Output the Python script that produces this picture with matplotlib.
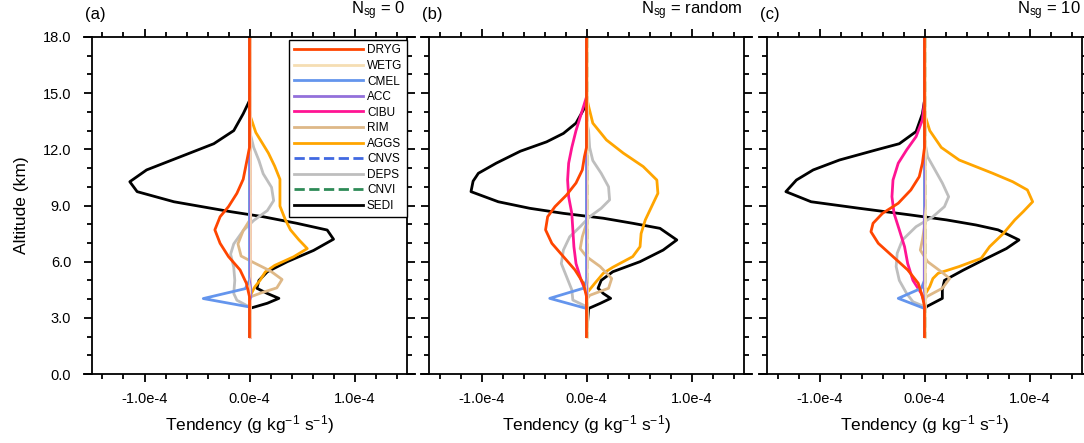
import matplotlib
matplotlib.use("Agg")
import matplotlib.pyplot as plt
from matplotlib.ticker import MultipleLocator, FuncFormatter
from matplotlib.lines import Line2D

plt.rcParams['font.family'] = ['Liberation Sans', 'DejaVu Sans']
plt.rcParams['mathtext.fontset'] = 'custom'
plt.rcParams['mathtext.rm'] = 'Liberation Sans'
plt.rcParams['mathtext.it'] = 'Liberation Sans:italic'

# profiles: (altitude km, tendency in 1e-4 g/kg/s)
zero = [(18, 0), (2, 0)]

# ---- (a) Nsg = 0
sedi_a = [(18, 0), (14.6, 0), (13.9, -0.06), (13.0, -0.15), (12.3, -0.34), (11.6, -0.66),
          (10.9, -0.98), (10.27, -1.14), (9.74, -1.07), (9.2, -0.72), (8.67, -0.18), (8.4, 0.13),
          (8.05, 0.45), (7.69, 0.74), (7.2, 0.80), (6.6, 0.61), (6.0, 0.36), (5.46, 0.17),
          (5.0, 0.09), (4.58, 0.07), (4.3, 0.17), (4.04, 0.28), (3.78, 0.17), (3.5, 0.0), (2, 0)]
dryg_a = [(18, 0), (12.1, 0), (11.25, -0.03), (10.4, -0.06), (9.65, -0.12), (8.94, -0.2),
          (8.4, -0.28), (7.7, -0.33), (6.98, -0.28), (6.27, -0.2), (5.56, -0.09), (4.85, -0.03),
          (4.13, 0), (2, 0)]
deps_a = [(18, 0), (13.0, 0), (12.1, 0.04), (11.4, 0.09), (10.7, 0.13), (9.97, 0.21), (9.26, 0.23),
          (8.73, 0.17), (8.2, 0.04), (7.66, -0.06), (6.95, -0.15), (6.4, -0.18), (5.7, -0.15),
          (5.0, -0.14), (4.3, -0.15), (3.94, -0.12), (3.58, 0), (2, 0)]
aggs_a = [(18, 0), (13.9, 0), (12.9, 0.06), (11.8, 0.18), (11.1, 0.24), (10.4, 0.29), (9.68, 0.29),
          (8.97, 0.29), (8.26, 0.34), (7.7, 0.39), (7.17, 0.47), (6.7, 0.55), (6.26, 0.42),
          (5.8, 0.24), (5.45, 0.15), (5.0, 0.10), (4.65, 0.05), (4.1, 0), (2, 0)]
rim_a = [(18, 0), (8.2, 0), (7.66, -0.06), (6.95, -0.11), (6.3, -0.08), (5.95, 0.04), (5.5, 0.20),
         (5.05, 0.31), (4.6, 0.26), (4.35, 0.12), (4.1, 0), (2, 0)]
cmel_a = [(18, 0), (5.0, 0), (4.56, -0.04), (4.03, -0.44), (3.58, 0), (2, 0)]
acc_a = [(18, 0), (5.2, 0), (4.6, 0.02), (4.1, 0.02), (3.8, 0), (2, 0)]
cibu_a = zero

# ---- (b) Nsg = random
sedi_b = [(18, 0), (14.6, 0), (14.1, -0.03), (13.4, -0.10), (12.85, -0.22), (12.4, -0.38),
          (11.9, -0.63), (11.26, -0.86), (10.72, -1.03), (10.3, -1.08), (9.74, -1.10), (9.2, -0.84),
          (8.85, -0.54), (8.58, -0.22), (8.32, 0.16), (8.05, 0.44), (7.78, 0.70), (7.16, 0.86),
          (6.62, 0.73), (6.0, 0.51), (5.46, 0.25), (5.0, 0.14), (4.58, 0.11), (4.3, 0.16),
          (4.04, 0.23), (3.77, 0.13), (3.5, 0.02), (2, 0)]
dryg_b = [(18, 0), (12.1, 0), (11.6, -0.02), (10.9, -0.04), (10.2, -0.10), (9.56, -0.19),
          (8.94, -0.30), (8.4, -0.37), (7.7, -0.39), (6.98, -0.33), (6.27, -0.22), (5.56, -0.11),
          (4.85, -0.03), (4.14, 0), (2, 0)]
cibu_b = [(18, 0), (14.8, 0), (13.9, -0.05), (13.0, -0.10), (12.1, -0.14), (11.26, -0.17),
          (10.36, -0.18), (9.47, -0.17), (8.58, -0.14), (7.7, -0.13), (6.8, -0.12), (5.9, -0.10),
          (5.0, -0.05), (4.3, 0), (2, 0)]
deps_b = [(18, 0), (13.5, 0), (13.0, 0.02), (12.1, 0.03), (11.4, 0.06), (10.72, 0.14), (10.0, 0.21),
          (9.3, 0.22), (8.85, 0.14), (8.4, 0.03), (7.87, -0.06), (7.33, -0.16), (6.62, -0.22),
          (5.9, -0.24), (5.2, -0.19), (4.5, -0.14), (3.95, -0.13), (3.6, 0), (2, 0)]
aggs_b = [(18, 0), (14.8, 0), (14.3, 0.02), (13.4, 0.06), (12.5, 0.19), (11.8, 0.35), (11.08, 0.54),
          (10.36, 0.67), (9.65, 0.68), (8.94, 0.62), (8.23, 0.56), (7.5, 0.52), (6.8, 0.51),
          (6.27, 0.44), (5.7, 0.25), (5.38, 0.16), (4.85, 0.08), (4.3, 0), (2, 0)]
rim_b = [(18, 0), (8.05, 0), (7.33, -0.04), (6.7, -0.06), (6.27, 0), (5.74, 0.13), (5.1, 0.24),
         (4.58, 0.21), (4.2, 0.03), (3.95, 0), (2, 0)]
cmel_b = [(18, 0), (5.0, 0), (4.58, -0.03), (4.04, -0.35), (3.5, 0), (2, 0)]
acc_b = [(18, 0), (5.2, 0), (4.6, 0.01), (4.1, 0.01), (3.8, 0), (2, 0)]

# ---- (c) Nsg = 10
sedi_c = [(18, 0), (14.6, 0), (13.9, -0.02), (12.95, -0.08), (12.3, -0.24), (11.97, -0.46),
          (11.43, -0.81), (10.9, -1.06), (10.36, -1.22), (9.74, -1.32), (9.2, -1.08), (8.85, -0.62),
          (8.5, -0.14), (8.23, 0.21), (7.96, 0.49), (7.7, 0.70), (7.16, 0.90), (6.7, 0.78),
          (6.09, 0.56), (5.55, 0.37), (5.0, 0.19), (4.5, 0.17), (4.04, 0.17), (3.6, 0.02),
          (3.42, 0), (2, 0)]
dryg_c = [(18, 0), (12.1, 0), (11.26, -0.02), (10.54, -0.05), (9.83, -0.13), (9.12, -0.25),
          (8.58, -0.40), (8.05, -0.49), (7.6, -0.51), (6.98, -0.44), (6.27, -0.30), (5.56, -0.16),
          (4.85, -0.06), (4.14, -0.02), (3.6, 0), (2, 0)]
cibu_c = [(18, 0), (14.6, 0), (13.57, -0.02), (12.68, -0.08), (11.97, -0.17), (11.26, -0.25),
          (10.36, -0.30), (9.47, -0.31), (8.58, -0.29), (7.7, -0.24), (6.8, -0.19), (5.9, -0.16),
          (5.0, -0.11), (4.3, -0.03), (3.8, 0), (2, 0)]
deps_c = [(18, 0), (12.5, 0), (11.6, 0.03), (10.9, 0.10), (10.2, 0.17), (9.47, 0.23), (8.94, 0.19),
          (8.4, 0.08), (7.87, -0.08), (7.16, -0.21), (6.45, -0.26), (5.74, -0.27), (5.0, -0.24),
          (4.3, -0.17), (3.86, -0.11), (3.6, 0), (2, 0)]
aggs_c = [(18, 0), (13.9, 0), (13.0, 0.05), (12.1, 0.16), (11.43, 0.33), (10.72, 0.65),
          (10.27, 0.84), (9.83, 0.98), (9.2, 1.03), (8.67, 0.94), (8.23, 0.86), (7.5, 0.75),
          (6.8, 0.62), (6.18, 0.54), (5.74, 0.33), (5.38, 0.13), (5.1, 0.08), (4.67, 0.05),
          (4.2, 0), (2, 0)]
rim_c = [(18, 0), (7.87, 0), (7.16, -0.02), (6.62, -0.04), (6.0, 0.03), (5.46, 0.16), (5.1, 0.24),
         (4.58, 0.17), (4.13, 0.02), (3.9, 0), (2, 0)]
cmel_c = [(18, 0), (5.0, 0), (4.58, -0.03), (4.04, -0.25), (3.5, 0), (2, 0)]
acc_c = [(18, 0), (9.0, 0), (8.5, -0.01), (4.5, -0.01), (4.0, 0), (2, 0)]

panel_tags = ['(a)', '(b)', '(c)']
panel_titles = ['N$_{\\mathrm{sg}}$ = 0', 'N$_{\\mathrm{sg}}$ = random', 'N$_{\\mathrm{sg}}$ = 10']

names = ['DRYG', 'WETG', 'CMEL', 'ACC', 'CIBU', 'RIM', 'AGGS', 'CNVS', 'DEPS', 'CNVI', 'SEDI']
colors = {'DRYG': '#FF4500', 'WETG': '#F5DEB3', 'CMEL': '#6495ED', 'ACC': '#9370DB',
          'CIBU': '#FF1493', 'RIM': '#DEB887', 'AGGS': '#FFA500', 'CNVS': '#4169E1',
          'DEPS': '#BEBEBE', 'CNVI': '#2E8B57', 'SEDI': 'black'}
styles = {'CNVS': '--', 'CNVI': '--'}
# draw order (DRYG last, on top)
draw_order = ['CNVS', 'CNVI', 'SEDI', 'DEPS', 'AGGS', 'RIM', 'CIBU', 'CMEL', 'WETG', 'ACC', 'DRYG']

panels = [
    {'DRYG': dryg_a, 'WETG': zero, 'CMEL': cmel_a, 'ACC': acc_a, 'CIBU': cibu_a, 'RIM': rim_a,
     'AGGS': aggs_a, 'CNVS': zero, 'DEPS': deps_a, 'CNVI': zero, 'SEDI': sedi_a},
    {'DRYG': dryg_b, 'WETG': zero, 'CMEL': cmel_b, 'ACC': acc_b, 'CIBU': cibu_b, 'RIM': rim_b,
     'AGGS': aggs_b, 'CNVS': zero, 'DEPS': deps_b, 'CNVI': zero, 'SEDI': sedi_b},
    {'DRYG': dryg_c, 'WETG': zero, 'CMEL': cmel_c, 'ACC': acc_c, 'CIBU': cibu_c, 'RIM': rim_c,
     'AGGS': aggs_c, 'CNVS': zero, 'DEPS': deps_c, 'CNVI': zero, 'SEDI': sedi_c},
]

W, H = 1084, 443
fig = plt.figure(figsize=(W / 100, H / 100), dpi=100)
lefts = [92, 429, 767]
axw, top, bot = 315, 37, 374

for i, data in enumerate(panels):
    ax = fig.add_axes([lefts[i] / W, (H - bot) / H, axw / W, (bot - top) / H])
    for nm in draw_order:
        z = [p[0] for p in data[nm]]
        x = [p[1] * 1e-4 for p in data[nm]]
        lw = 0.8 if nm == 'ACC' else 2.0
        ax.plot(x, z, color=colors[nm], lw=lw, ls=styles.get(nm, '-'))

    ax.set_xlim(-1.5e-4, 1.5e-4)
    ax.set_ylim(0, 18)
    ax.xaxis.set_major_locator(MultipleLocator(1e-4))
    ax.xaxis.set_minor_locator(MultipleLocator(0.2e-4))
    ax.yaxis.set_major_locator(MultipleLocator(3))
    ax.yaxis.set_minor_locator(MultipleLocator(1))
    ax.xaxis.set_major_formatter(FuncFormatter(lambda v, p: '%.1fe-4' % (round(v * 1e4, 1) + 0.0)))
    ax.yaxis.set_major_formatter(FuncFormatter(lambda v, p: '%.1f' % v))
    ax.tick_params(which='both', direction='out', top=True, right=True, width=1.3, labelsize=10.5)
    ax.tick_params(which='major', length=6)
    ax.tick_params(which='minor', length=3.5)
    ax.tick_params(axis='x', which='major', pad=7)
    ax.tick_params(axis='y', which='major', pad=9)
    if i > 0:
        ax.tick_params(labelleft=False)
    else:
        ax.set_ylabel('Altitude (km)', fontsize=12.5, labelpad=10)
    for s in ['left', 'right']:
        ax.spines[s].set_linewidth(1.3)
    for s in ['top', 'bottom']:
        ax.spines[s].set_visible(False)
    for yy in [0, 1]:
        ax.plot([-0.028, 1.028], [yy, yy], color='black', lw=1.3, transform=ax.transAxes,
                clip_on=False, solid_capstyle='butt')
    ax.set_xlabel('Tendency (g kg$^{-1}$ s$^{-1}$)', fontsize=12.5, labelpad=5)
    ax.text(-0.022, 1.045, panel_tags[i], transform=ax.transAxes, ha='left', va='bottom', fontsize=12)
    ax.text(0.995, 1.045, panel_titles[i], transform=ax.transAxes, ha='right', va='bottom', fontsize=12)

    if i == 0:
        handles = [Line2D([], [], color=colors[nm], lw=2.0, ls=styles.get(nm, '-')) for nm in names]
        leg = ax.legend(handles, names, loc='upper right', bbox_to_anchor=(1.0, 0.992),
                        borderaxespad=0, fontsize=8.5, handlelength=5.9, handletextpad=0.3,
                        labelspacing=0.3, borderpad=0.4, fancybox=False, framealpha=1)
        leg.get_frame().set_edgecolor('black')
        leg.get_frame().set_linewidth(1.0)

fig.savefig('out.png', dpi=100)
